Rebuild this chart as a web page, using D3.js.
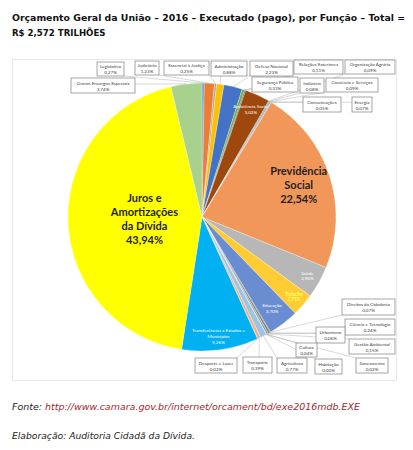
<!DOCTYPE html>
<html><head><meta charset="utf-8">
<script src="https://cdn.jsdelivr.net/npm/d3@7"></script>
<style>body{margin:0;background:#fff}</style>
</head><body>
<svg id="c" width="413" height="450"></svg>
<script>
const categories = ["Legislativo","Judiciário","Essencial à Justiça","Administração","Defesa Nacional","Segurança Pública","Relações Exteriores","Assistência Social","Organização Agrária","Indústria","Comércio e Serviços","Comunicações","Energia","Previdência Social","Saúde","Trabalho","Educação","Direitos da Cidadania","Ciência e Tecnologia","Urbanismo","Gestão Ambiental","Cultura","Saneamento","Habitação","Agricultura","Transporte","Desporte e Lazer","Transferências a Estados e Municípios","Juros e Amortizações da Dívida","Outros Encargos Especiais"];
const values = [0.27,1.23,0.25,0.88,2.23,0.33,0.11,3.02,0.09,0.08,0.09,0.05,0.07,22.54,3.90,2.71,3.70,0.07,0.24,0.06,0.15,0.04,0.02,0.00,0.77,0.39,0.02,9.26,43.94,3.74];
const colors = ["#5B9BD5","#ED7D31","#A5A5A5","#FFC000","#4472C4","#70AD47","#264478","#9E480E","#636363","#997300","#255E91","#43682B","#698ED0","#F1975A","#B7B7B7","#FFCD33","#6A8DD2","#43682B","#7a7a7a","#997300","#2E75B6","#9E480E","#636363","#997300","#9DC3E6","#F4B183","#A5A5A5","#00B0F0","#FFFF00","#A9D18E"];
const titleLines = ["Orçamento Geral da União – 2016 – Executado (pago), por Função – Total =","R$ 2,572 TRILHÕES"];

const fmt = v => v.toFixed(2).replace(".", ",") + "%";

// callout box layout [x, y, w, h]
const boxes = {
 "Legislativo":[97,62,27,14], "Judiciário":[135,61,24,14], "Essencial à Justiça":[164,61,45,14],
 "Administração":[211,61,36,15], "Defesa Nacional":[250,61,43,15], "Relações Exteriores":[294,60,49,14],
 "Organização Agrária":[345,60,50,14], "Outros Encargos Especiais":[71,78,64,15], "Segurança Pública":[252,77,46,15],
 "Indústria":[300,78,24,15], "Comércio e Serviços":[326,78,52,14], "Comunicações":[303,97,38,15],
 "Energia":[352,97,20,15], "Direitos da Cidadania":[342,299,53,16], "Ciência e Tecnologia":[345,319,50,16],
 "Urbanismo":[316,327,29,16], "Gestão Ambiental":[349,339,46,15], "Cultura":[296,343,21,14],
 "Saneamento":[356,358,32,15], "Habitação":[315,359,27,15], "Agricultura":[277,358,30,15],
 "Transporte":[243,357,29,16], "Desporte e Lazer":[195,358,42,15]
};
// inside labels: [radius fraction, font size, line height, color, bold, lines]
const inside = {
 "Juros e Amortizações da Dívida":[0.43,11,14,"#1f1f1f",true,["Juros e","Amortizações","da Dívida"]],
 "Previdência Social":[0.76,11,14,"#1f1f1f",true,["Previdência","Social"]],
 "Assistência Social":[0.88,4.6,5.6,"#ffffff",false,["Assistência Social"]],
 "Saúde":[0.9,4.6,5.6,"#ffffff",false,["Saúde"]],
 "Trabalho":[0.91,4.6,5.6,"#FFFF66",true,["Trabalho"]],
 "Educação":[0.86,4.6,5.6,"#ffffff",false,["Educação"]],
 "Transferências a Estados e Municípios":[0.9,4.6,5.6,"#ffffff",false,["Transferências a Estados e","Municípios"]]
};

const data = categories.map((c,i)=>({name:c, v:values[i], color:colors[i]}));
const svg = d3.select("#c");
const cx = 202, cy = 217, R = 134;

// chart frame
svg.append("rect").attr("x",12.5).attr("y",59.5).attr("width",384).attr("height",321)
  .attr("fill","none").attr("stroke","#e3e3e3").attr("stroke-width",0.8);

// title
svg.selectAll("text.title").data(titleLines).join("text").attr("class","title")
  .attr("x",12).attr("y",(d,i)=>20.5+i*15.5)
  .attr("font-family","DejaVu Sans").attr("font-weight","bold").attr("font-size",8.6).attr("fill","#111")
  .attr("textLength",(d,i)=>i===0?393:null).attr("lengthAdjust","spacingAndGlyphs")
  .text(d=>d);

const pie = d3.pie().sort(null).value(d=>d.v);
const arcs = pie(data);
const arc = d3.arc().innerRadius(0).outerRadius(R);
const g = svg.append("g").attr("transform",`translate(${cx},${cy})`);
g.selectAll("path").data(arcs).join("path").attr("d",arc)
  .attr("fill",d=>d.data.color).attr("stroke","#fff").attr("stroke-width",0.3);

// inside labels
arcs.forEach(a=>{
  const L = inside[a.data.name]; if(!L) return;
  const [f,fs,lh,col,bold,lines] = L;
  const c = d3.arc().innerRadius(R*f).outerRadius(R*f).centroid(a);
  const all = lines.concat([fmt(a.data.v)]);
  const t = g.append("text").attr("text-anchor","middle").attr("font-family","Lato")
    .attr("font-size",fs).attr("fill",col).attr("font-weight",bold?"bold":"normal");
  all.forEach((s,i)=>t.append("tspan").attr("x",c[0]).attr("y",c[1]+(i-(all.length-1)/2)*lh+fs*0.35).text(s));
});

// callouts
const cg = svg.append("g");
arcs.forEach(a=>{
  const b = boxes[a.data.name]; if(!b) return;
  const mid = (a.startAngle+a.endAngle)/2;
  const px = cx + Math.sin(mid)*R, py = cy - Math.cos(mid)*R;
  const qx = Math.max(b[0],Math.min(b[0]+b[2],px)), qy = Math.max(b[1],Math.min(b[1]+b[3],py));
  cg.append("line").attr("x1",px).attr("y1",py).attr("x2",qx).attr("y2",qy)
    .attr("stroke","#b0b0b0").attr("stroke-width",0.5);
});
arcs.forEach(a=>{
  const b = boxes[a.data.name]; if(!b) return;
  cg.append("rect").attr("x",b[0]).attr("y",b[1]).attr("width",b[2]).attr("height",b[3])
    .attr("fill","#fff").attr("stroke","#7f7f7f").attr("stroke-width",0.7);
  const t = cg.append("text").attr("text-anchor","middle").attr("font-family","Lato")
    .attr("font-size",4.6).attr("fill","#404040");
  t.append("tspan").attr("x",b[0]+b[2]/2).attr("y",b[1]+b[3]/2-1).text(a.data.name);
  t.append("tspan").attr("x",b[0]+b[2]/2).attr("y",b[1]+b[3]/2+5).text(fmt(a.data.v));
});

// footer
const f1 = svg.append("text").attr("x",12).attr("y",410).attr("font-family","DejaVu Sans")
  .attr("font-style","italic").attr("font-size",8.4).attr("textLength",348).attr("lengthAdjust","spacingAndGlyphs");
f1.append("tspan").attr("fill","#222").text("Fonte: ");
f1.append("tspan").attr("fill","#a3282b").text("http://www.camara.gov.br/internet/orcament/bd/exe2016mdb.EXE");
svg.append("text").attr("x",12).attr("y",439).attr("font-family","DejaVu Sans")
  .attr("font-style","italic").attr("font-size",8.4).attr("fill","#222")
  .attr("textLength",183).attr("lengthAdjust","spacingAndGlyphs")
  .text("Elaboração: Auditoria Cidadã da Dívida.");
</script>
</body></html>
